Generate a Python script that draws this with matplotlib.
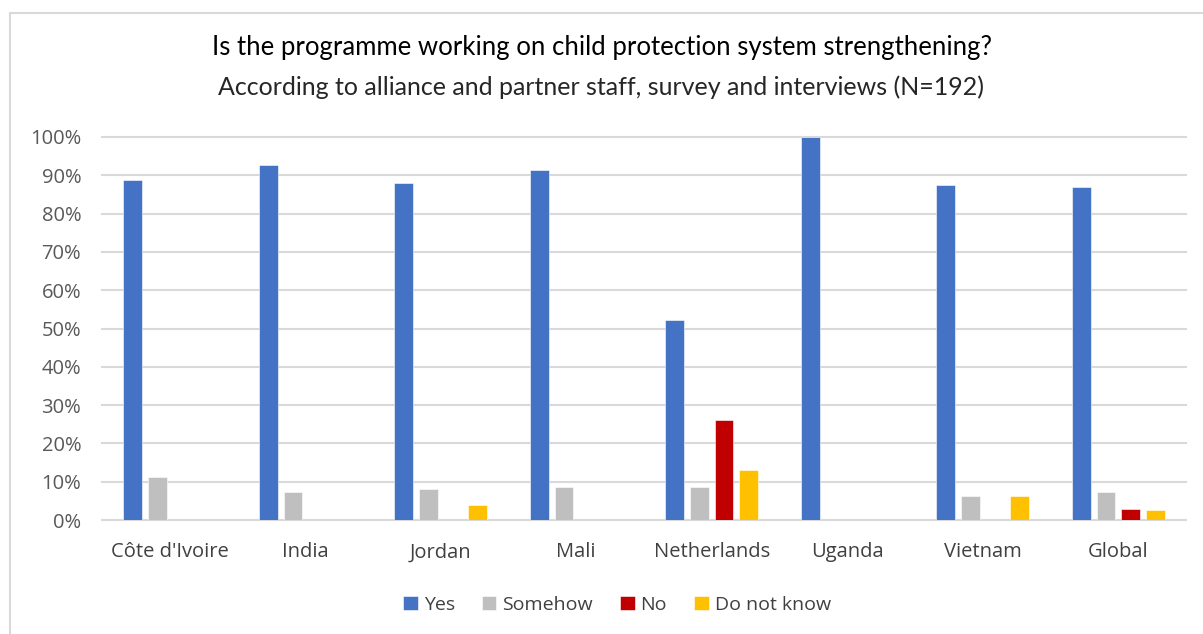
import matplotlib.pyplot as plt
import numpy as np
from matplotlib.lines import Line2D

categories = ["Côte d'Ivoire", "India", "Jordan", "Mali", "Netherlands", "Uganda", "Vietnam", "Global"]
yes = [88.9, 92.6, 88.0, 91.3, 52.2, 100.0, 87.5, 87.0]
somehow = [11.1, 7.4, 8.0, 8.7, 8.7, 0.0, 6.25, 7.3]
no = [0.0, 0.0, 0.0, 0.0, 26.1, 0.0, 0.0, 3.0]
dont_know = [0.0, 0.0, 4.0, 0.0, 13.0, 0.0, 6.25, 2.6]

series = [("Yes", yes, "#4472c4"), ("Somehow", somehow, "#bfbfbf"),
          ("No", no, "#c00000"), ("Do not know", dont_know, "#ffc000")]

plt.rcParams['font.family'] = ['Open Sans', 'DejaVu Sans']

fig = plt.figure(figsize=(12.03, 6.34), dpi=100)
ax = fig.add_axes([102 / 1203, 1 - 520 / 634, (1186 - 102) / 1203, (520 - 137) / 634])

x = np.arange(len(categories))
step = 0.181
width = 0.14
for i, (name, vals, col) in enumerate(series):
    ax.bar(x + (i - 1.5) * step, np.array(vals) / 100, width, color=col, label=name,
           edgecolor="white", linewidth=0.4, zorder=3)

ax.set_xlim(-0.5, len(categories) - 0.5)
ax.set_ylim(0, 1)
ax.set_yticks(np.arange(0, 1.01, 0.1))
ax.set_yticklabels([f"{int(round(v * 100))}%" for v in np.arange(0, 1.01, 0.1)])
ax.set_xticks(x)
ax.set_xticklabels(categories)
for g in np.arange(0, 1.01, 0.1):
    ax.axhline(g, color="#d9d9d9", linewidth=1.5, zorder=1, clip_on=False)
for s in ax.spines.values():
    s.set_visible(False)
ax.tick_params(axis="both", length=0, labelsize=14.5, colors="#595959")
ax.tick_params(axis="y", pad=15)
ax.tick_params(axis="x", pad=16, labelcolor="#404040")

fig.text(0.5, 1 - 48 / 634, "Is the programme working on child protection system strengthening?",
         ha="center", va="center", fontsize=18.5, family=["Lato", "DejaVu Sans"], color="black")
fig.text(0.5, 1 - 87 / 634, "According to alliance and partner staff, survey and interviews (N=192)",
         ha="center", va="center", fontsize=18, family=["Lato", "DejaVu Sans"], color="#262626")

leg = fig.legend(loc="center", bbox_to_anchor=(617 / 1203, 1 - 605 / 634), ncol=4, frameon=False,
                 fontsize=14, handlelength=0.75, handleheight=0.75, handletextpad=0.3, columnspacing=1.4)
for t in leg.get_texts():
    t.set_color("#404040")

# outer chart frame
fig.add_artist(Line2D([10 / 1203, 10 / 1203], [0, 1 - 13 / 634], color="#d9d9d9", linewidth=1.5))
fig.add_artist(Line2D([10 / 1203, 1], [1 - 13 / 634, 1 - 13 / 634], color="#d9d9d9", linewidth=1.5))

fig.savefig("out.png", dpi=100)
